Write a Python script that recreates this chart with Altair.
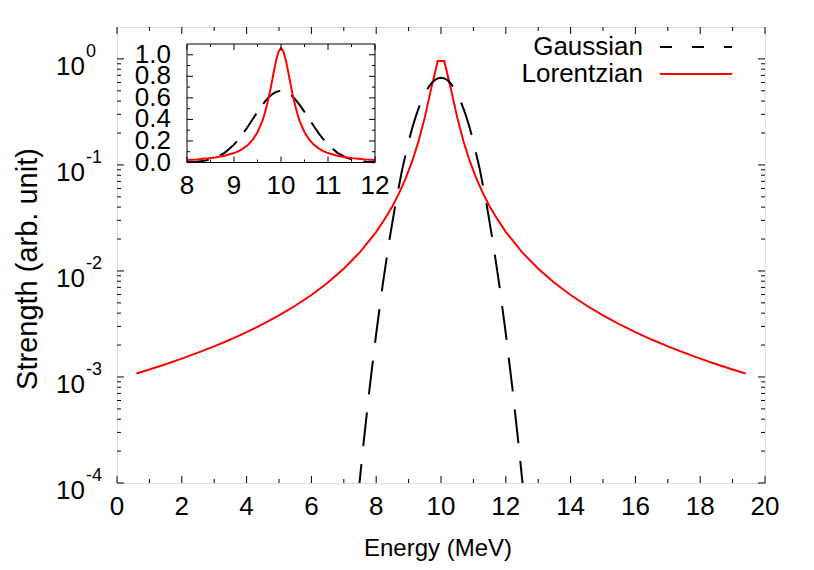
import altair as alt
import pandas as pd

FONT = "Liberation Sans"

# ---------------- data ----------------
lor_energy = [0.6, 1.0, 1.5, 2.0, 2.5, 3.0, 3.5, 4.0, 4.5, 5.0, 5.5, 6.0, 6.5, 7.0, 7.5,
              8.0, 8.3, 8.5, 8.7, 8.9, 9.1, 9.3, 9.5, 9.7, 9.9,
              10.1, 10.3, 10.5, 10.7, 10.9, 11.1, 11.3, 11.5, 11.7, 12.0,
              12.5, 13.0, 13.5, 14.0, 14.5, 15.0, 15.5, 16.0, 16.5, 17.0, 17.5, 18.0, 18.5, 19.0, 19.4]
lor_strength = [1.080e-3, 1.178e-3, 1.320e-3, 1.490e-3, 1.695e-3, 1.945e-3, 2.255e-3, 2.646e-3,
                3.147e-3, 3.806e-3, 4.695e-3, 5.935e-3, 7.739e-3, 1.051e-2, 1.506e-2,
                2.335e-2, 3.205e-2, 4.081e-2, 5.365e-2, 7.346e-2, 0.1061, 0.1646, 0.2809, 0.5305, 0.9549,
                0.9549, 0.5305, 0.2809, 0.1646, 0.1061, 7.346e-2, 5.365e-2, 4.081e-2, 3.205e-2, 2.335e-2,
                1.506e-2, 1.051e-2, 7.739e-3, 5.935e-3, 4.695e-3, 3.806e-3, 3.147e-3, 2.646e-3,
                2.255e-3, 1.945e-3, 1.695e-3, 1.490e-3, 1.320e-3, 1.178e-3, 1.080e-3]

gau_energy = [7.0, 7.2, 7.4, 7.6, 7.8, 8.0, 8.2, 8.4, 8.6, 8.8, 9.0, 9.1, 9.2, 9.3, 9.4, 9.5,
              9.6, 9.7, 9.8, 9.9, 10.0, 10.1, 10.2, 10.3, 10.4, 10.5, 10.6, 10.7, 10.8, 10.9,
              11.0, 11.2, 11.4, 11.6, 11.8, 12.0, 12.2, 12.4, 12.6, 12.8, 13.0]
gau_strength = [2.478e-6, 1.241e-5, 5.562e-5, 2.231e-4, 8.003e-4, 2.570e-3, 7.386e-3, 1.899e-2,
                4.370e-2, 8.999e-2, 0.1658, 0.2159, 0.2734, 0.3367, 0.4033, 0.4699, 0.5324,
                0.5868, 0.6290, 0.6557, 0.6649, 0.6557, 0.6290, 0.5868, 0.5324, 0.4699, 0.4033,
                0.3367, 0.2734, 0.2159, 0.1658, 8.999e-2, 4.370e-2, 1.899e-2, 7.386e-3, 2.570e-3,
                8.003e-4, 2.231e-4, 5.562e-5, 1.241e-5, 2.478e-6]

inset_energy = [8.0, 8.2, 8.4, 8.6, 8.8, 9.0, 9.1, 9.2, 9.3, 9.4, 9.5, 9.6, 9.65, 9.7, 9.75,
                9.8, 9.85, 9.9, 9.95, 10.0, 10.05, 10.1, 10.15, 10.2, 10.25, 10.3, 10.35,
                10.4, 10.5, 10.6, 10.7, 10.8, 10.9, 11.0, 11.2, 11.4, 11.6, 11.8, 12.0]
inset_lor = [0.02335, 0.02868, 0.03604, 0.04658, 0.06241, 0.08761, 0.1061, 0.1308, 0.1646,
             0.2122, 0.2809, 0.3820, 0.4494, 0.5305, 0.6262, 0.7346, 0.8488, 0.9549, 1.0324,
             1.0610, 1.0324, 0.9549, 0.8488, 0.7346, 0.6262, 0.5305, 0.4494, 0.3820, 0.2809,
             0.2122, 0.1646, 0.1308, 0.1061, 0.08761, 0.06241, 0.04658, 0.03604, 0.02868, 0.02335]
inset_gau = [0.00257, 0.00739, 0.01899, 0.04370, 0.08999, 0.1658, 0.2159, 0.2734, 0.3367,
             0.4033, 0.4699, 0.5324, 0.5609, 0.5868, 0.6096, 0.6290, 0.6444, 0.6557, 0.6626,
             0.6649, 0.6626, 0.6557, 0.6444, 0.6290, 0.6096, 0.5868, 0.5609, 0.5324, 0.4699,
             0.4033, 0.3367, 0.2734, 0.2159, 0.1658, 0.08999, 0.04370, 0.01899, 0.00739, 0.00257]

x_major = [0, 2, 4, 6, 8, 10, 12, 14, 16, 18, 20]
x_minor = [1, 3, 5, 7, 9, 11, 13, 15, 17, 19]
y_major = [1e-4, 1e-3, 1e-2, 1e-1, 1.0]
y_exponents = ["-4", "-3", "-2", "-1", "0"]
y_minor = [2e-4, 3e-4, 4e-4, 5e-4, 6e-4, 7e-4, 8e-4, 9e-4,
           2e-3, 3e-3, 4e-3, 5e-3, 6e-3, 7e-3, 8e-3, 9e-3,
           2e-2, 3e-2, 4e-2, 5e-2, 6e-2, 7e-2, 8e-2, 9e-2,
           0.2, 0.3, 0.4, 0.5, 0.6, 0.7, 0.8, 0.9]
inset_x_major = [8, 9, 10, 11, 12]
inset_x_minor = [8.5, 9.5, 10.5, 11.5]
inset_y_major = [0.0, 0.2, 0.4, 0.6, 0.8, 1.0]
inset_y_labels = ["0.0", "0.2", "0.4", "0.6", "0.8", "1.0"]
inset_y_minor = [0.1, 0.3, 0.5, 0.7, 0.9]
legend_labels = ["Gaussian", "Lorentzian"]

# ---------------- layout ----------------
W, H = 648, 456
MAJ, MIN = 7, 4
IMAJ, IMIN = 6, 3
FS = 26

xs = alt.Scale(domain=[0, 20], nice=False, zero=False)
ys = alt.Scale(type="log", domain=[1e-4, 2], nice=False)
ixs = alt.Scale(domain=[8, 12], range=[70, 258], nice=False, zero=False)
iys = alt.Scale(domain=[0, 1.1], range=[135.5, 17], nice=False, zero=False)


def vrules(values, scale, y0, y1):
    return alt.Chart(pd.DataFrame({"v": values})).mark_rule(color="black", strokeWidth=1).encode(
        x=alt.X("v:Q", scale=scale, axis=None), y=alt.value(y0), y2=alt.value(y1))


def hrules(values, scale, x0, x1):
    return alt.Chart(pd.DataFrame({"v": values})).mark_rule(color="black", strokeWidth=1).encode(
        y=alt.Y("v:Q", scale=scale, axis=None), x=alt.value(x0), x2=alt.value(x1))


def label(text, x, y, size=FS, align="center", angle=0):
    return alt.Chart(pd.DataFrame({"t": [text]})).mark_text(
        font=FONT, fontSize=size, align=align, baseline="middle", angle=angle, color="black"
    ).encode(text="t:N", x=alt.value(x), y=alt.value(y))


lor_df = pd.DataFrame({"energy": lor_energy, "strength": lor_strength})
gau_df = pd.DataFrame({"energy": gau_energy, "strength": gau_strength})

lor_line = alt.Chart(lor_df).mark_line(color="#ff0000", strokeWidth=2, clip=True).encode(
    x=alt.X("energy:Q", scale=xs, axis=None),
    y=alt.Y("strength:Q", scale=ys, axis=None))
gau_line = alt.Chart(gau_df).mark_line(color="black", strokeWidth=2, strokeDash=[34, 18],
                                       clip=True).encode(
    x=alt.X("energy:Q", scale=xs, axis=None),
    y=alt.Y("strength:Q", scale=ys, axis=None))

xlab = alt.Chart(pd.DataFrame({"v": x_major})).mark_text(
    font=FONT, fontSize=FS, baseline="middle", color="black").encode(
    x=alt.X("v:Q", scale=xs, axis=None), y=alt.value(H + 24), text="v:Q")

ylab_df = pd.DataFrame({"v": y_major, "base": ["10"] * len(y_major), "exp": y_exponents})
ylab_base = alt.Chart(ylab_df).mark_text(font=FONT, fontSize=FS, align="right", baseline="middle",
                                         dy=8, color="black").encode(
    y=alt.Y("v:Q", scale=ys, axis=None), x=alt.value(-32), text="base:N")
ylab_exp = alt.Chart(ylab_df).mark_text(font=FONT, fontSize=18, align="left", baseline="middle",
                                        dy=-7, color="black").encode(
    y=alt.Y("v:Q", scale=ys, axis=None), x=alt.value(-31), text="exp:N")

legend_df = pd.DataFrame({"t": legend_labels})
leg_text = [label(legend_labels[0], 526, 20, align="right"),
            label(legend_labels[1], 526, 47, align="right")]
leg_gau = alt.Chart(legend_df.head(1)).mark_rule(color="black", strokeWidth=2,
                                                 strokeDash=[12, 20]).encode(
    x=alt.value(543), x2=alt.value(615), y=alt.value(20))
leg_lor = alt.Chart(legend_df.head(1)).mark_rule(color="#ff0000", strokeWidth=2).encode(
    x=alt.value(543), x2=alt.value(615), y=alt.value(47))

main = alt.layer(
    lor_line, gau_line,
    vrules(x_major, xs, H, H - MAJ), vrules(x_minor, xs, H, H - MIN),
    vrules(x_major, xs, 0, MAJ), vrules(x_minor, xs, 0, MIN),
    hrules(y_major, ys, 0, MAJ), hrules(y_minor, ys, 0, MIN),
    hrules(y_major, ys, W, W - MAJ), hrules(y_minor, ys, W, W - MIN),
    xlab, ylab_base, ylab_exp,
    label("Energy (MeV)", W / 2 - 3, 522, size=24),
    label("Strength (arb. unit)", -89, 242, size=29, angle=270),
    *leg_text, leg_gau, leg_lor,
)

# ---------------- inset ----------------
inset_df = pd.DataFrame({"energy": inset_energy, "lor": inset_lor, "gau": inset_gau})
frame_df = pd.DataFrame({"x0": [8], "x1": [12], "y0": [0.0], "y1": [1.1]})
inset_frame = alt.Chart(frame_df).mark_rect(fill="white", stroke="black", strokeWidth=1).encode(
    x=alt.X("x0:Q", scale=ixs, axis=None), x2="x1:Q",
    y=alt.Y("y0:Q", scale=iys, axis=None), y2="y1:Q")
inset_lor_line = alt.Chart(inset_df).mark_line(color="#ff0000", strokeWidth=2).encode(
    x=alt.X("energy:Q", scale=ixs, axis=None), y=alt.Y("lor:Q", scale=iys, axis=None))
inset_gau_line = alt.Chart(inset_df).mark_line(color="black", strokeWidth=2,
                                               strokeDash=[22, 12]).encode(
    x=alt.X("energy:Q", scale=ixs, axis=None), y=alt.Y("gau:Q", scale=iys, axis=None))

IX0, IX1, IY0, IY1 = 70, 258, 135.5, 17
ixlab = alt.Chart(pd.DataFrame({"v": inset_x_major})).mark_text(
    font=FONT, fontSize=FS, baseline="middle", color="black").encode(
    x=alt.X("v:Q", scale=ixs, axis=None), y=alt.value(159), text="v:Q")
iylab = alt.Chart(pd.DataFrame({"v": inset_y_major, "t": inset_y_labels})).mark_text(
    font=FONT, fontSize=FS, align="right", baseline="middle", color="black").encode(
    y=alt.Y("v:Q", scale=iys, axis=None), x=alt.value(IX0 - 16), text="t:N")

inset = alt.layer(
    inset_frame, inset_gau_line, inset_lor_line,
    vrules(inset_x_major, ixs, IY0, IY0 - IMAJ), vrules(inset_x_minor, ixs, IY0, IY0 - IMIN),
    vrules(inset_x_major, ixs, IY1, IY1 + IMAJ), vrules(inset_x_minor, ixs, IY1, IY1 + IMIN),
    hrules(inset_y_major, iys, IX0, IX0 + IMAJ), hrules(inset_y_minor, iys, IX0, IX0 + IMIN),
    hrules(inset_y_major, iys, IX1, IX1 - IMAJ), hrules(inset_y_minor, iys, IX1, IX1 - IMIN),
    ixlab, iylab,
)

chart = alt.layer(main, inset).resolve_scale(x="independent", y="independent").properties(
    width=W, height=H,
    autosize=alt.AutoSizeParams(type="none"),
    padding={"left": 109, "top": 19, "right": 41, "bottom": 79},
).configure_view(stroke="black", strokeWidth=1).configure(background="white")

chart.save("out.html", embed_options={"renderer": "svg", "actions": False})
